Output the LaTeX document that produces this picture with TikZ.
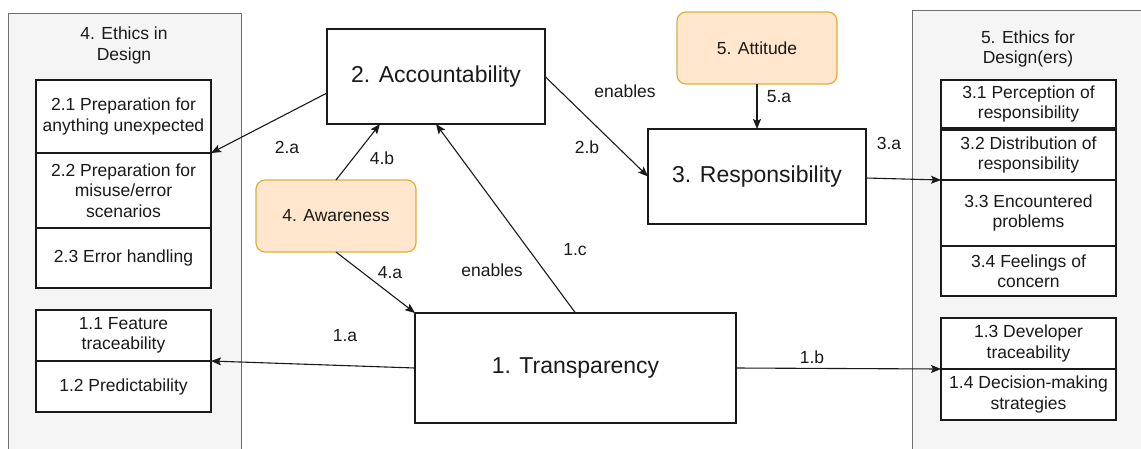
\documentclass[tikz,border=0pt]{standalone}
\usepackage{fontspec}
\setmainfont{Liberation Sans}
\usetikzlibrary{arrows.meta}
\definecolor{ink}{HTML}{1A1A1A}
\definecolor{panelfill}{HTML}{F5F5F5}
\definecolor{panelline}{HTML}{6E6E6E}
\definecolor{softfill}{HTML}{FFE6CC}
\definecolor{softline}{HTML}{DDAF3F}

\begin{document}
\begin{tikzpicture}[x=1pt,y=-1pt,
  txt/.style={font=\fontsize{17.5}{20.5}\selectfont, text=ink},
  bigtxt/.style={font=\fontsize{23}{26}\selectfont, text=ink},
  panel/.style={draw=panelline, fill=panelfill, line width=1, anchor=north west,
    inner sep=0, outer sep=0},
  item/.style={txt, draw=ink, fill=white, line width=1.2, align=center,
    inner sep=0, outer sep=0, anchor=north west, minimum width=175},
  mainbox/.style={bigtxt, draw=ink, fill=white, line width=1.2, inner sep=0,
    outer sep=0, anchor=north west},
  soft/.style={txt, draw=softline, fill=softfill, line width=1.2, rounded corners=9,
    inner sep=0, outer sep=0, anchor=north west, minimum width=160, minimum height=72},
  lbl/.style={txt, inner sep=0},
  title/.style={txt, align=center, inner sep=0},
  conn/.style={draw=ink, line width=1.1, -{Stealth[length=10pt,width=8pt,inset=2pt]}},
]
\useasboundingbox (0,0) rectangle (1141,448);
\clip (0,0) rectangle (1141,448);
\fill[white] (0,0) rectangle (1141,448);

% side panels
\node[panel, minimum width=233, minimum height=470] (leftpanel) at (8,13) {};
\node[title] (lefttitle) at (124,45.5) {4. Ethics in\\Design};
\node[panel, minimum width=260, minimum height=470] (rightpanel) at (912,10) {};
\node[title] (righttitle) at (1028,49) {5. Ethics for\\Design(ers)};

% left panel items
\node[item, minimum height=73] (g21) at (36,80) {2.1 Preparation for\\anything unexpected};
\node[item, minimum height=75] (g22) at (36,153) {2.2 Preparation for\\misuse/error\\scenarios};
\node[item, minimum height=60] (g23) at (36,228) {2.3 Error handling};
\node[item, minimum height=51] (g11) at (36,310) {1.1 Feature\\traceability};
\node[item, minimum height=51] (g12) at (36,361) {1.2 Predictability};

% right panel items
\node[item, minimum height=48] (g31) at (941,80) {3.1 Perception of\\responsibility};
\node[item, minimum height=50] (g32) at (941,130) {3.2 Distribution of\\responsibility};
\node[item, minimum height=66] (g33) at (941,180) {3.3 Encountered\\problems};
\node[item, minimum height=50] (g34) at (941,246) {3.4 Feelings of\\concern};
\node[item, minimum height=51] (g13) at (941,318) {1.3 Developer\\traceability};
\node[item, minimum height=51] (g14) at (941,369) {1.4 Decision-making\\strategies};
\draw[ink, line width=2] (g13.south west) -- (g13.south east);

% central concepts
\node[mainbox, minimum width=218, minimum height=95] (acc) at (327,29) {2. Accountability};
\node[mainbox, minimum width=218, minimum height=95] (resp) at (648,129) {3. Responsibility};
\node[mainbox, minimum width=321, minimum height=110] (trans) at (415,313) {1. Transparency};
\node[soft] (aware) at (256,180) {4. Awareness};
\node[soft] (att) at (677,12) {5. Attitude};

% relations
\draw[conn] ([yshift=-16.5pt]acc.west) -- (g21.south east);
\draw[conn] (acc.east) -- (resp.west);
\draw[conn] (att.south) -- (resp.north);
\draw[conn] ([yshift=-1.5pt]resp.east) -- (g33.north west);
\draw[conn] (aware.north) -- ([xshift=-56pt]acc.south);
\draw[conn] (aware.south) -- (trans.north west);
\draw[conn] (trans.north) -- (acc.south);
\draw[conn] (trans.west) -- (g11.south east);
\draw[conn] (trans.east) -- (g13.south west);

% relation labels
\node[lbl] (l2a) at (287,147) {2.a};
\node[lbl] (l2b) at (587,147) {2.b};
\node[lbl] (len1) at (625,91) {enables};
\node[lbl] (l5a) at (779,97) {5.a};
\node[lbl] (l3a) at (889,143) {3.a};
\node[lbl] (l4b) at (382,158) {4.b};
\node[lbl] (l4a) at (390,273) {4.a};
\node[lbl] (len2) at (492,270) {enables};
\node[lbl] (l1c) at (575,250) {1.c};
\node[lbl] (l1a) at (345,336) {1.a};
\node[lbl] (l1b) at (812,357) {1.b};
\end{tikzpicture}
\end{document}
